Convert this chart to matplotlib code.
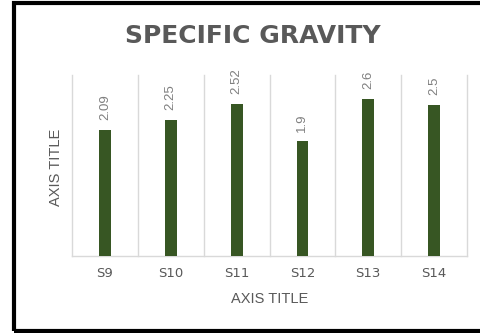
import matplotlib
matplotlib.use("Agg")
import matplotlib.pyplot as plt
from matplotlib.patches import Rectangle
import numpy as np

samples = ["S9", "S10", "S11", "S12", "S13", "S14"]
gravity = [2.09, 2.25, 2.52, 1.9, 2.6, 2.5]

bar_color = "#375623"
text_gray = "#595959"
label_gray = "#7f7f7f"
grid_gray = "#d9d9d9"
narrow = ["Liberation Sans", "DejaVu Sans"]

fig = plt.figure(figsize=(4.81, 3.33), dpi=100)
ax = fig.add_axes([0.1497, 0.232, 0.8213, 0.543])

x = np.arange(len(samples))
bars = ax.bar(x, gravity, width=0.18, color=bar_color, zorder=3)

# rotated value labels above each bar
for xi, val in zip(x, gravity):
    ax.annotate(f"{val:g}", (xi, val), xytext=(0, 7), textcoords="offset points",
                rotation=90, ha="center", va="bottom", fontsize=9.5,
                family=narrow, color=label_gray)

ax.set_xlim(-0.5, len(samples) - 0.5)
ax.set_ylim(0, 3.0)

# vertical separators between categories
for b in np.arange(len(samples) + 1) - 0.5:
    ax.axvline(b, color=grid_gray, lw=1, zorder=1, clip_on=False)

for side in ["left", "right", "top"]:
    ax.spines[side].set_visible(False)
ax.spines["bottom"].set_color(grid_gray)
ax.spines["bottom"].set_linewidth(1)

ax.set_yticks([])
ax.set_xticks(x)
ax.set_xticklabels(samples, fontsize=9.5, color=text_gray)
ax.tick_params(axis="x", length=0, pad=8)

ax.set_xlabel("AXIS TITLE", fontsize=10.5, family=narrow, color=text_gray)
ax.xaxis.set_label_coords(0.5, -0.24)
ax.xaxis.label.set_va("center")
ax.set_ylabel("AXIS TITLE", fontsize=10.5, family=narrow, color=text_gray)
ax.yaxis.set_label_coords(-0.04, 0.49)
ax.yaxis.label.set_va("center")

fig.text(0.525, 0.893, "SPECIFIC GRAVITY", ha="center", va="center",
         fontsize=18, fontweight="bold", color=text_gray)

# black frame around the chart (right side runs off the image)
frame = Rectangle((14 / 481, 2 / 333), 1.2, 328 / 333, transform=fig.transFigure,
                  fill=False, edgecolor="black", lw=3, clip_on=False)
fig.patches.append(frame)

fig.savefig("out.png", dpi=100, facecolor="white")
